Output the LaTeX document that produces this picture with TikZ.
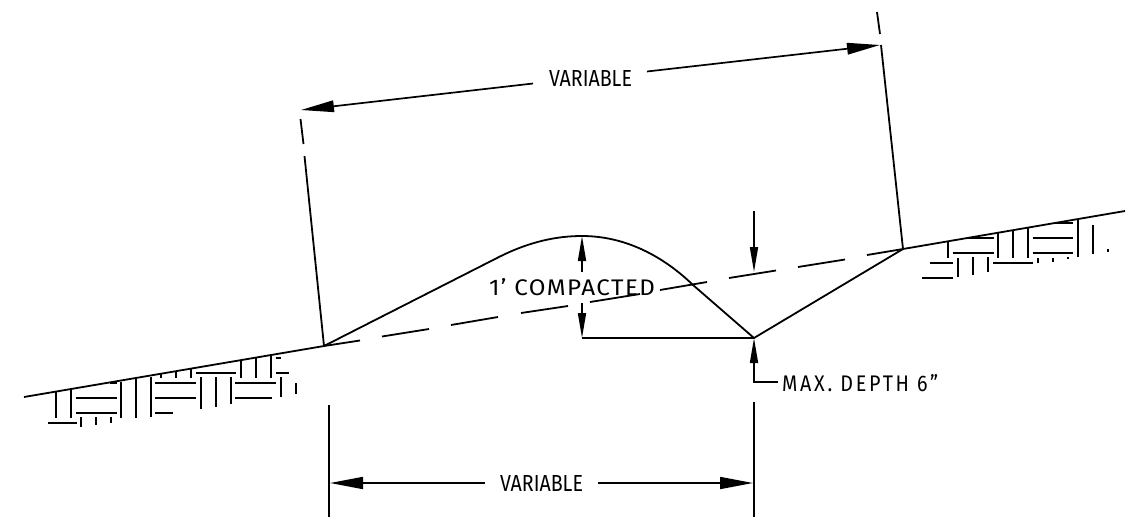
\documentclass[tikz,border=0pt]{standalone}
\usepackage{graphicx}
\usepackage{fontspec}
\setmainfont{Fira Sans}
\usetikzlibrary{arrows.meta}
\tikzset{
  ln/.style={line width=1.8pt,black},
  hatch/.style={line width=1.8pt,black},
  dim/.style={line width=1.7pt,black,-{Triangle[length=25pt,width=8pt]}},
  lbl/.style={inner sep=0pt,outer sep=0pt,anchor=center}
}
\newcommand{\lab}[3]{\resizebox{#1pt}{#2pt}{#3}}
\begin{document}
\begin{tikzpicture}[x=1pt,y=-1pt]
\useasboundingbox (0,0) rectangle (1144,517);
% key points
\coordinate (toeL) at (324,346);
\coordinate (toeR) at (903,249);
\coordinate (low) at (754,338);
\coordinate (crown) at (582,236);
\coordinate (base) at (582,338);
% ground
\draw[ln] (24,397) -- (toeL);
\draw[ln] (toeR) -- (1125,211);
% dashed original ground
\foreach \a/\b/\c/\d in {324/346/360/340.5, 382/336.5/429/329, 451/325/498/317, 521/313/568/306, 590/302/640/294, 660/290/707/282, 729/278/776/270.5, 798/267/845/259.5, 867/255/903/249}
  \draw[ln] (\a,\b) -- (\c,\d);
% hump and ditch
\draw[ln,line join=round] (toeL) -- (497,258) .. controls (530,241) and (558,236) .. (crown) .. controls (625,236) and (663,256) .. (693,285) -- (low) -- (toeR);
\draw[ln] (base) -- (low);
% extension lines
\coordinate (extLa) at (300.5,119); \coordinate (extLb) at (303.5,144); \coordinate (extLc) at (304.5,156);
\coordinate (extRa) at (877,12); \coordinate (extRb) at (880,34); \coordinate (extRc) at (881,45);
\draw[ln] (extLa) -- (extLb);
\draw[ln] (extLc) -- (toeL);
\draw[ln] (extRa) -- (extRb);
\draw[ln] (extRc) -- (toeR);
\draw[ln] (329,405) -- (329,517);
\draw[ln] (754,402) -- (754,517);
% top dimension
\node[lbl] (v1) at (590.5,78) {\lab{83}{16}{VARIABLE}};
\coordinate (t1a) at (533,83.5); \coordinate (t1b) at (647,71.5);
\coordinate (tipL) at (301,110); \coordinate (tipR) at (880,45);
\draw[dim,-{Triangle[length=33pt,width=11.5pt]}] (t1a) -- (tipL);
\draw[dim,-{Triangle[length=33pt,width=11.5pt]}] (t1b) -- (tipR);
% bottom dimension
\node[lbl] (v2) at (541.5,483.5) {\lab{83}{16}{VARIABLE}};
\coordinate (b1a) at (485,483); \coordinate (b1b) at (598,483);
\coordinate (tipBL) at (330,483); \coordinate (tipBR) at (753,483);
\draw[dim,-{Triangle[length=33pt,width=12pt]}] (b1a) -- (tipBL);
\draw[dim,-{Triangle[length=33pt,width=12pt]}] (b1b) -- (tipBR);
% compacted
\node[lbl] (c) at (572,287.5) {\lab{166}{17}{\addfontfeature{LetterSpace=6}1'\,\,COMPACTED}};
\coordinate (ca) at (582,272); \coordinate (cb) at (582,303);
\draw[dim] (ca) -- (crown);
\draw[dim] (cb) -- (base);
% top small arrow
\coordinate (ga) at (754,211); \coordinate (gb) at (754,272);
\draw[dim] (ga) -- (gb);
% max depth
\node[lbl,anchor=west] (m) at (782,383.5) {\lab{156}{17}{\addfontfeature{LetterSpace=14}MAX.\ DEPTH\ 6"}};
\coordinate (mc) at (754,382);
\draw[ln,line join=miter] (m.west) ++(-4,-1.5) -- (mc) -- (754,362);
\draw[dim] (mc) -- (low);
% left hatching
\begin{scope}[shift={(20,330)},x=0.3333pt,y=-0.3333pt]
\foreach \x/\a/\b in {108/185/265,153/178/265,303/155/265,348/147/265,393/140/260,422/132/145,467/127/145,512/118/145,662/92/145,707/85/145,752/77/145,782/142/200,827/160/192,183/262/292,228/262/285,272/262/278,543/142/237,587/142/230,632/142/223}
  \draw[hatch] (\x,\a) -- (\x,\b);
\foreach \y/\a/\b in {203/167/290,248/167/290,278/85/170,158/405/528,203/405/528,248/405/460,128/527/648,158/646/768,203/646/755,128/767/808,83/767/783,158/270/290}
  \draw[hatch] (\a,\y) -- (\b,\y);
\end{scope}
% right hatching
\begin{scope}[shift={(900,200)},x=0.3333pt,y=-0.3333pt]
\foreach \x/\a/\b in {145/125/175,175/175/232,220/172/225,265/172/217,295/100/175,340/92/175,384/85/175,414/175/190,459/175/185,504/172/176,534/60/170,579/75/162,624/147/155}
  \draw[hatch] (\x,\a) -- (\x,\b);
\foreach \y/\a/\b in {113/205/282,158/158/282,188/90/160,234/67/160,188/280/400,113/398/520,158/398/520,68/462/520}
  \draw[hatch] (\a,\y) -- (\b,\y);
\end{scope}
\end{tikzpicture}
\end{document}
